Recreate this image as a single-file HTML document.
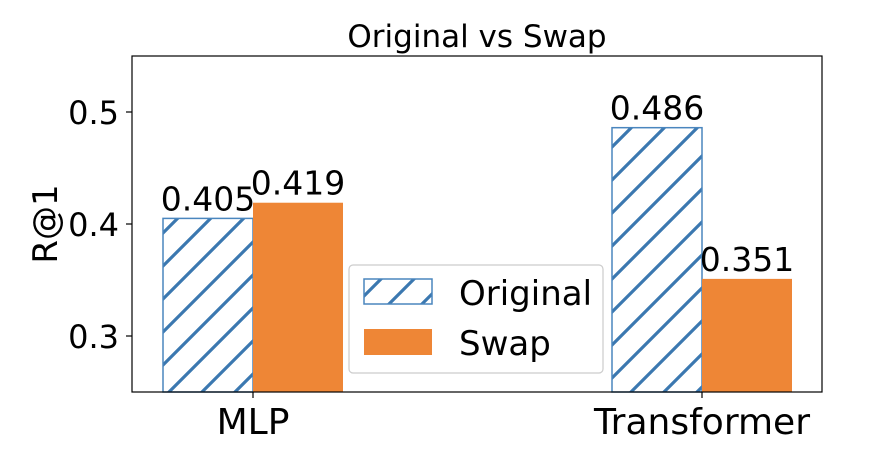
<!DOCTYPE html>
<html><head><meta charset="utf-8"><style>
body{margin:0;background:#fff}
svg text{font-family:"DejaVu Sans","Liberation Sans",sans-serif;fill:#000}
</style></head><body>
<svg id="c" width="870" height="462" xmlns="http://www.w3.org/2000/svg">
<defs>
<pattern id="hatch" patternUnits="userSpaceOnUse" width="33" height="33">
<path d="M-8,41 L41,-8 M-8,8 L8,-8 M25,41 L41,25" stroke="#3b78b0" stroke-width="3.2"/>
</pattern>
</defs>
<text x="477" y="47" font-size="31" text-anchor="middle">Original vs Swap</text>
<g id="plot"></g>
</svg>
<script>
const categories=["MLP","Transformer"];
const originalValues=[0.405,0.486];
const swapValues=[0.419,0.351];
const yTicks=[0.3,0.4,0.5];
const L=132,R=822,T=56,B=392,y0=0.25,y1=0.55;
const xs=i=>253+i*449;
const ys=v=>B-(v-y0)/(y1-y0)*(B-T);
const bw=90;
const ns="http://www.w3.org/2000/svg";
const g=document.getElementById('plot');
function mk(t,a,txt){const e=document.createElementNS(ns,t);for(const k in a)e.setAttribute(k,a[k]);if(txt!==undefined)e.textContent=txt;g.appendChild(e);return e;}
categories.forEach((c,i)=>{
  const cx=xs(i);
  let b=mk('rect',{x:cx-bw,y:ys(originalValues[i]),width:bw,height:B-ys(originalValues[i]),fill:'url(#hatch)',stroke:'#4a86be','stroke-width':1.5});
  
  
  let s=mk('rect',{x:cx,y:ys(swapValues[i]),width:bw,height:B-ys(swapValues[i]),fill:'#ee8636'});
  
  
  let t1=mk('text',{x:cx-bw/2,y:ys(originalValues[i])-8,'font-size':33,'text-anchor':'middle'},originalValues[i].toFixed(3));
  
  
  let t2=mk('text',{x:cx+bw/2,y:ys(swapValues[i])-8,'font-size':33,'text-anchor':'middle'},swapValues[i].toFixed(3));
  
  
  mk('line',{x1:cx,x2:cx,y1:B,y2:B+6,stroke:'#000','stroke-width':1.2});
  let xl=mk('text',{x:cx,y:B+42,'font-size':36,'text-anchor':'middle'},c);
  
  
});
yTicks.forEach(v=>{
  mk('line',{x1:L-6,x2:L,y1:ys(v),y2:ys(v),stroke:'#000','stroke-width':1.2});
  let t=mk('text',{x:L-13,y:ys(v)+12,'font-size':32,'text-anchor':'end'},v.toFixed(1));
  
  
});
let fr=mk('rect',{x:L,y:T,width:R-L,height:B-T,fill:'none',stroke:'#000','stroke-width':1.2});


let yl=mk('text',{x:57,y:224,'font-size':34,'text-anchor':'middle',transform:'rotate(-90 57 224)'},'R@1');


let lg=mk('rect',{x:349,y:265,width:254,height:108,rx:4,fill:'#fff','fill-opacity':0.8,stroke:'#ccc','stroke-width':1.2});


let p1=mk('rect',{x:364,y:279,width:68,height:25,fill:'url(#hatch)',stroke:'#4a86be','stroke-width':1.5});


let l1=mk('text',{x:459,y:305,'font-size':34},'Original');


let p2=mk('rect',{x:364,y:329,width:68,height:26,fill:'#ee8636'});


let l2=mk('text',{x:459,y:355,'font-size':34},'Swap');


</script>
</body></html>
